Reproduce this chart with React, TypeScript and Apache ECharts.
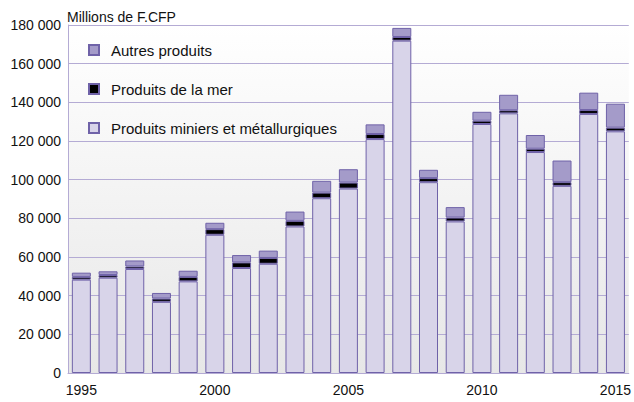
import React, { useEffect, useRef } from "react";
import * as echarts from "echarts";

const years = ["1995","1996","1997","1998","1999","2000","2001","2002","2003","2004","2005","2006","2007","2008","2009","2010","2011","2012","2013","2014","2015"];
const miniers = [48300, 49300, 53800, 36800, 47400, 71500, 54300, 56500, 75800, 90400, 95400, 121000, 171900, 98700, 78400, 128800, 134300, 114300, 96800, 134000, 125000];
const mer = [1400, 1400, 1300, 1700, 2300, 2900, 2900, 3000, 2900, 2900, 3100, 2600, 1900, 2100, 2000, 1700, 1600, 1700, 1900, 2000, 1900];
const autres = [2200, 1900, 3100, 2900, 3200, 3300, 3800, 3800, 4800, 6100, 6900, 5000, 4700, 4300, 5400, 4600, 8000, 7100, 11200, 9000, 12400];
const seriesNames = ["Autres produits", "Produits de la mer", "Produits miniers et métallurgiques"];
const unitLabel = "Millions de F.CFP";

const FONT = "'Liberation Sans', Arial, sans-serif";
const BORDER = "#6f62a8";
const GRID = "#b4abd4";

export default function App() {
  const ref = useRef<HTMLDivElement>(null);
  useEffect(() => {
    document.body.style.margin = "0";
    const chart = echarts.init(ref.current!, null, { renderer: "svg" });
    const fmt = (v: number) => String(v).replace(/\B(?=(\d{3})+(?!\d))/g, " ");
    const barStyle = (color: string) => ({ color, borderColor: BORDER, borderWidth: 1 });
    chart.setOption({
      animation: false,
      textStyle: { fontFamily: FONT },
      title: {
        text: unitLabel,
        left: 67,
        top: 10,
        padding: 0,
        textStyle: { fontFamily: FONT, fontSize: 14, fontWeight: "normal", color: "#111" },
      },
      legend: {
        orient: "vertical",
        left: 88,
        top: 41,
        padding: 0,
        icon: "rect",
        itemWidth: 10,
        itemHeight: 10,
        itemGap: 21,
        data: seriesNames,
        textStyle: { fontFamily: FONT, fontSize: 15, lineHeight: 18, color: "#111", padding: [0, 0, 0, 7] },
      },
      grid: {
        left: 68,
        right: 5,
        top: 25,
        bottom: 29,
        show: true,
        borderWidth: 0,
        backgroundColor: new echarts.graphic.LinearGradient(0, 0, 0, 1, [
          { offset: 0, color: "#ffffff" },
          { offset: 1, color: "#e7e7e7" },
        ]),
      },
      xAxis: {
        type: "category",
        data: years,
        axisTick: { show: false },
        axisLine: { lineStyle: { color: GRID, width: 1 } },
        axisLabel: { interval: 4, color: "#111", fontFamily: FONT, fontSize: 14, margin: 10 },
      },
      yAxis: {
        type: "value",
        min: 0,
        max: 180000,
        interval: 20000,
        axisLine: { show: true, lineStyle: { color: GRID } },
        axisTick: { show: false },
        splitLine: { lineStyle: { color: GRID, width: 1 } },
        axisLabel: { formatter: fmt, color: "#111", fontFamily: FONT, fontSize: 14, margin: 7 },
      },
      series: [
        { name: seriesNames[2], type: "bar", stack: "t", barWidth: 19, data: miniers, itemStyle: barStyle("#d8d4e9") },
        { name: seriesNames[1], type: "bar", stack: "t", barWidth: 19, data: mer, itemStyle: barStyle("#000000") },
        { name: seriesNames[0], type: "bar", stack: "t", barWidth: 19, data: autres, itemStyle: barStyle("#a49bc9") },
      ],
    });
    return () => chart.dispose();
  }, []);
  return <div ref={ref} style={{ width: 634, height: 402 }} />;
}
